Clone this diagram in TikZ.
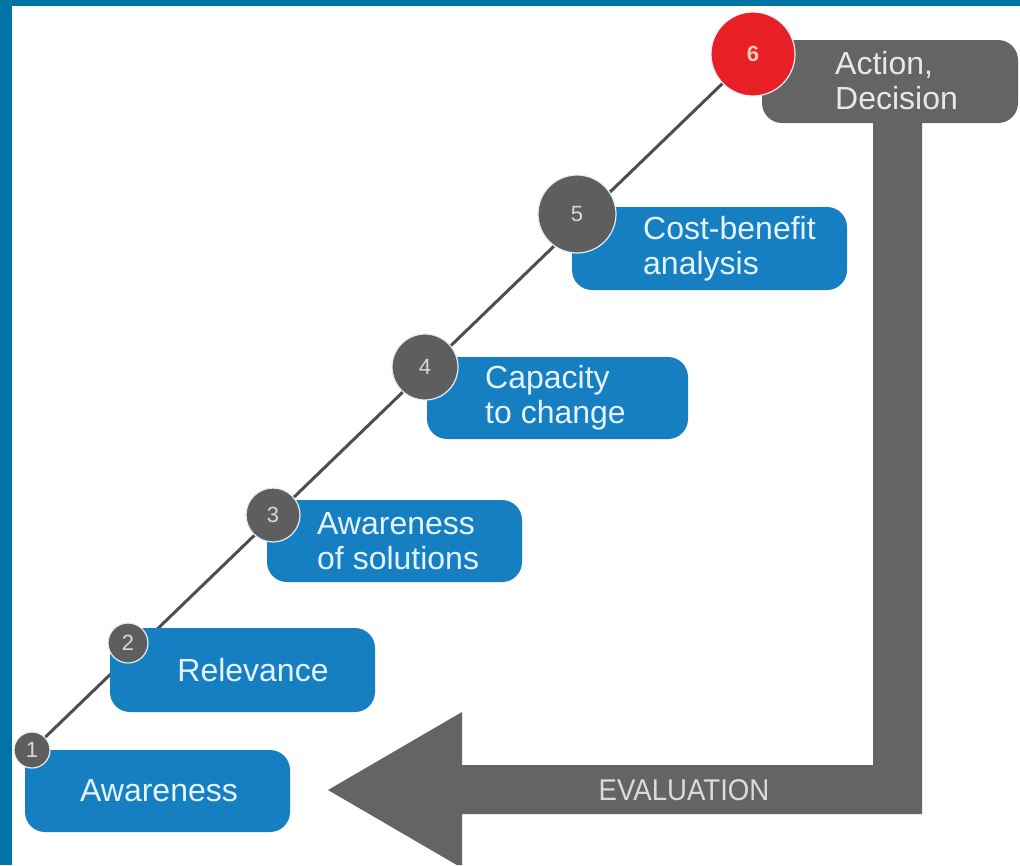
\documentclass[tikz,border=0pt]{standalone}
\usepackage{fontspec}
\setmainfont{Liberation Sans}
\usetikzlibrary{backgrounds}
\definecolor{frameblue}{RGB}{0,116,164}
\definecolor{boxblue}{RGB}{22,127,194}
\definecolor{stepgray}{RGB}{100,100,100}
\definecolor{circgray}{RGB}{94,94,94}
\definecolor{stepred}{RGB}{232,32,38}
\definecolor{boxtext}{RGB}{228,243,255}
\definecolor{graytext}{RGB}{232,232,232}
\definecolor{linegray}{RGB}{78,78,78}
\definecolor{ringcol}{RGB}{225,238,248}
\definecolor{redtext}{RGB}{250,205,190}
\begin{document}
\begin{tikzpicture}[x=1pt,y=-1pt,
  stepbox/.style={fill=boxblue, rounded corners=20pt, inner sep=0pt},
  boxlabel/.style={font=\fontsize{32}{35}\selectfont, text=boxtext, align=left, inner sep=0pt},
  circ/.style={circle, fill=circgray, draw=ringcol, line width=1.2pt, inner sep=0pt,
    text=white!85!black, font=\fontsize{22}{22}\selectfont},
  evaltext/.style={font=\fontsize{30}{30}\selectfont, text=white!86!black, inner sep=0pt}]
\useasboundingbox (0,0) rectangle (1020,865);
% frame
\begin{pgfonlayer}{background}
\fill[white] (0,0) rectangle (1020,865);
\fill[frameblue] (0,0) rectangle (1020,6);
\fill[frameblue] (0,0) rectangle (12,865);
\end{pgfonlayer}
% evaluation arrow
\fill[stepgray] (873,110) -- (873,765) -- (462,765) -- (462,712) -- (328,790)
  -- (456.8,865) -- (462,865) -- (462,814) -- (922,814) -- (922,110) -- cycle;
\node[evaltext] (ev) at (684,790) {\scalebox{0.92}[1]{EVALUATION}};
% boxes
\node[stepbox, minimum width=265pt, minimum height=82pt] (b1) at (157.5,791) {};
\node[stepbox, minimum width=265pt, minimum height=84pt] (b2) at (242.5,670) {};
\node[stepbox, minimum width=255pt, minimum height=82pt] (b3) at (394.5,541) {};
\node[stepbox, minimum width=261pt, minimum height=82pt] (b4) at (557.5,398) {};
\node[stepbox, minimum width=275pt, minimum height=83pt] (b5) at (709.5,248.5) {};
\node[stepbox, fill=stepgray, minimum width=256pt, minimum height=83pt] (b6) at (890,81.5) {};
% labels
\node[boxlabel] (t1) at (159,791) {Awareness};
\node[boxlabel] (t2) at (253,670) {Relevance};
\node[boxlabel, anchor=west] (t3) at (317,541) {Awareness\\of solutions};
\node[boxlabel, anchor=west] (t4) at (485,398) {Capacity\\to change};
\node[boxlabel, anchor=west] (t5) at (643,249) {Cost-benefit\\analysis};
\node[boxlabel, anchor=west, text=graytext] (t6) at (835,81) {Action,\\Decision};
% circles
\node[circ, minimum size=36pt] (c1) at (32,750) {1};
\node[circ, minimum size=40pt] (c2) at (128,643) {2};
\node[circ, minimum size=54pt] (c3) at (273,515) {3};
\node[circ, minimum size=66pt] (c4) at (425,367) {4};
\node[circ, minimum size=78pt] (c5) at (577,214) {5};
\node[circ, fill=stepred, text=redtext, minimum size=84pt, font=\fontsize{22}{22}\selectfont\bfseries] (c6) at (753,54) {6};
% diagonal line
\begin{pgfonlayer}{background}
\draw[linegray, line width=3pt] (c1.center) -- (c6.center);
\end{pgfonlayer}
\end{tikzpicture}
\end{document}
